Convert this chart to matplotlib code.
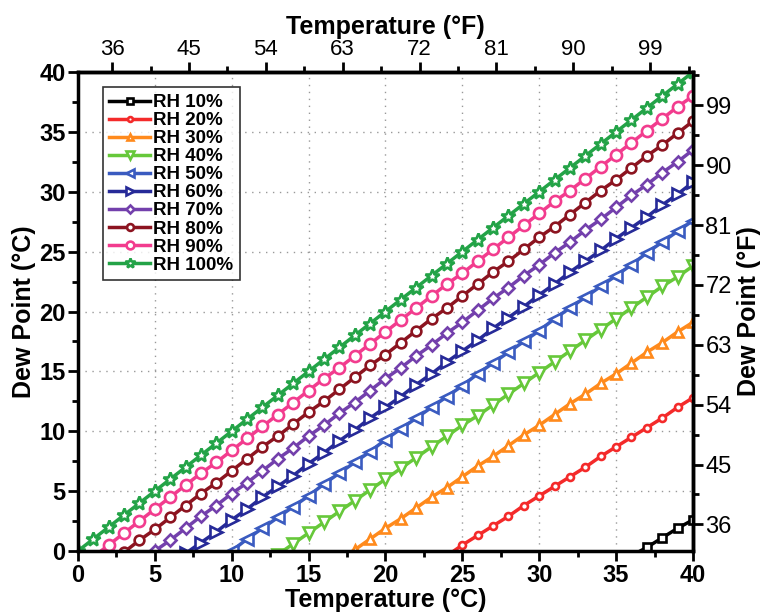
'''
    Dew point vs temperature for several relative humidities
'''
import matplotlib
matplotlib.use('Agg')
import matplotlib.pyplot as plt
from matplotlib.ticker import MultipleLocator, FixedLocator

# Temperature (C) and dew point (C), one list per RH
t10 = [36, 37, 38, 39, 40]
d10 = [-0.4, 0.3, 1.1, 1.9, 2.6]

t20 = list(range(24, 41))
d20 = [-0.4, 0.5, 1.3, 2.1, 2.9, 3.8, 4.6, 5.4, 6.2, 7.0, 7.9, 8.7, 9.5, 10.3, 11.1, 12.0, 12.8]

t30 = list(range(17, 41))
d30 = [-0.7, 0.1, 1.0, 1.9, 2.7, 3.6, 4.5, 5.3, 6.2, 7.1, 7.9, 8.8, 9.7, 10.5,
       11.4, 12.3, 13.1, 14.0, 14.8, 15.7, 16.6, 17.4, 18.3, 19.1]

t40 = list(range(12, 41))
d40 = [-1.2, -0.3, 0.6, 1.5, 2.4, 3.3, 4.2, 5.1, 6.0, 6.9, 7.8, 8.7, 9.6, 10.5, 11.3,
       12.2, 13.1, 14.0, 14.9, 15.8, 16.7, 17.6, 18.5, 19.4, 20.3, 21.2, 22.1, 22.9, 23.8]

t50 = list(range(9, 41))
d50 = [-0.9, 0.0, 1.0, 1.9, 2.8, 3.7, 4.6, 5.6, 6.5, 7.4, 8.3, 9.3, 10.2, 11.1, 12.0, 12.9,
       13.8, 14.8, 15.7, 16.6, 17.5, 18.4, 19.4, 20.3, 21.2, 22.1, 23.0, 23.9, 24.9, 25.8,
       26.7, 27.6]

t60 = list(range(7, 41))
d60 = [-0.2, 0.7, 1.6, 2.6, 3.5, 4.5, 5.4, 6.3, 7.3, 8.2, 9.2, 10.1, 11.1, 12.0, 12.9,
       13.9, 14.8, 15.8, 16.7, 17.6, 18.6, 19.5, 20.4, 21.4, 22.3, 23.3, 24.2, 25.1, 26.1,
       27.0, 27.9, 28.9, 29.8, 30.8]

t70 = list(range(4, 41))
d70 = [-1.0, 0.0, 0.9, 1.9, 2.9, 3.8, 4.8, 5.7, 6.7, 7.7, 8.6, 9.6, 10.5, 11.5, 12.4,
       13.4, 14.4, 15.3, 16.3, 17.2, 18.2, 19.1, 20.1, 21.1, 22.0, 23.0, 23.9, 24.9, 25.8,
       26.8, 27.7, 28.7, 29.7, 30.6, 31.6, 32.5, 33.5]

t80 = list(range(3, 41))
d80 = [-0.1, 0.9, 1.8, 2.8, 3.8, 4.8, 5.7, 6.7, 7.7, 8.7, 9.6, 10.6, 11.6, 12.5, 13.5,
       14.5, 15.5, 16.4, 17.4, 18.4, 19.4, 20.3, 21.3, 22.3, 23.3, 24.2, 25.2, 26.2, 27.1,
       28.1, 29.1, 30.1, 31.0, 32.0, 33.0, 33.9, 34.9, 35.9]

t90 = list(range(1, 41))
d90 = [-0.5, 0.5, 1.5, 2.5, 3.5, 4.5, 5.5, 6.5, 7.4, 8.4, 9.4, 10.4, 11.4, 12.4, 13.4,
       14.4, 15.3, 16.3, 17.3, 18.3, 19.3, 20.3, 21.3, 22.3, 23.2, 24.2, 25.2, 26.2, 27.2,
       28.2, 29.2, 30.1, 31.1, 32.1, 33.1, 34.1, 35.1, 36.1, 37.1, 38.0]

t100 = list(range(0, 41))
d100 = list(range(0, 41))

labels = ['RH 10%', 'RH 20%', 'RH 30%', 'RH 40%', 'RH 50%',
          'RH 60%', 'RH 70%', 'RH 80%', 'RH 90%', 'RH 100%']
colors = ['black', '#f42a2a', '#ff8a1c', '#66c83a', '#3a5bc0',
          '#262a98', '#7340ac', '#8c1420', '#f23c8e', '#23a347']
markers = ['s', 'o', '^', 'v', '<', '>', 'D', 'o', 'o', '*']
msizes = [6, 5, 7, 8, 8, 8, 6, 7, 8, 10]

f_ticks = [36, 45, 54, 63, 72, 81, 90, 99]


def c2f(c):
    return c * 9 / 5 + 32


def f2c(f):
    return (f - 32) * 5 / 9


plt.rcParams['font.family'] = ['Liberation Sans', 'DejaVu Sans']

fig = plt.figure(figsize=(7.64, 6.14), dpi=100)
ax = fig.add_axes([0.102, 0.1026, 0.805, 0.78])

series = [(t10, d10), (t20, d20), (t30, d30), (t40, d40), (t50, d50),
          (t60, d60), (t70, d70), (t80, d80), (t90, d90), (t100, d100)]
for (t, d), lab, c, m, ms in zip(series, labels, colors, markers, msizes):
    ax.plot(t, d, color=c, lw=2.5, marker=m, ms=ms, mfc='white',
            mec=c, mew=1.9, label=lab)

ax.set_xlim(0, 40)
ax.set_ylim(0, 40)
ax.xaxis.set_major_locator(MultipleLocator(5))
ax.yaxis.set_major_locator(MultipleLocator(5))
ax.xaxis.set_minor_locator(MultipleLocator(2.5))
ax.yaxis.set_minor_locator(MultipleLocator(2.5))
ax.grid(True, which='major', ls=(0, (1, 4)), color='#999999', lw=1)
ax.tick_params(which='major', direction='out', length=7, width=2, labelsize=17, pad=2)
ax.tick_params(which='minor', direction='out', length=4, width=2)
for lab in ax.get_xticklabels() + ax.get_yticklabels():
    lab.set_fontweight('bold')
for s in ax.spines.values():
    s.set_linewidth(2.5)

ax.set_xlabel('Temperature (°C)', fontsize=18, fontweight='bold', labelpad=1)
ax.set_ylabel('Dew Point (°C)', fontsize=18, fontweight='bold', labelpad=2)

top = ax.secondary_xaxis('top', functions=(c2f, f2c))
top.xaxis.set_major_locator(FixedLocator(f_ticks))
top.xaxis.set_minor_locator(FixedLocator([f + 4.5 for f in f_ticks]))
top.tick_params(which='major', direction='out', length=7, width=2, labelsize=16, pad=2)
top.tick_params(which='minor', direction='out', length=4, width=2)
top.set_xlabel('Temperature (°F)', fontsize=18, fontweight='bold', labelpad=3)

right = ax.secondary_yaxis('right', functions=(c2f, f2c))
right.yaxis.set_major_locator(FixedLocator(f_ticks))
right.yaxis.set_minor_locator(FixedLocator([f + 4.5 for f in f_ticks]))
right.tick_params(which='major', direction='out', length=7, width=2, labelsize=17, pad=2)
right.tick_params(which='minor', direction='out', length=4, width=2)
right.set_ylabel('Dew Point (°F)', fontsize=18, fontweight='bold', labelpad=4)
for s in list(top.spines.values()) + list(right.spines.values()):
    s.set_linewidth(2.5)

leg = ax.legend(loc='upper left', bbox_to_anchor=(0.04, 0.968), fontsize=13.5,
                frameon=True, fancybox=False, edgecolor='black', handlelength=2.2,
                handletextpad=0.15, labelspacing=0.05, borderpad=0.35,
                borderaxespad=0, markerscale=0.7)
for t in leg.get_texts():
    t.set_fontweight('bold')
leg.get_frame().set_linewidth(1.2)

fig.savefig('out.png', dpi=100)
